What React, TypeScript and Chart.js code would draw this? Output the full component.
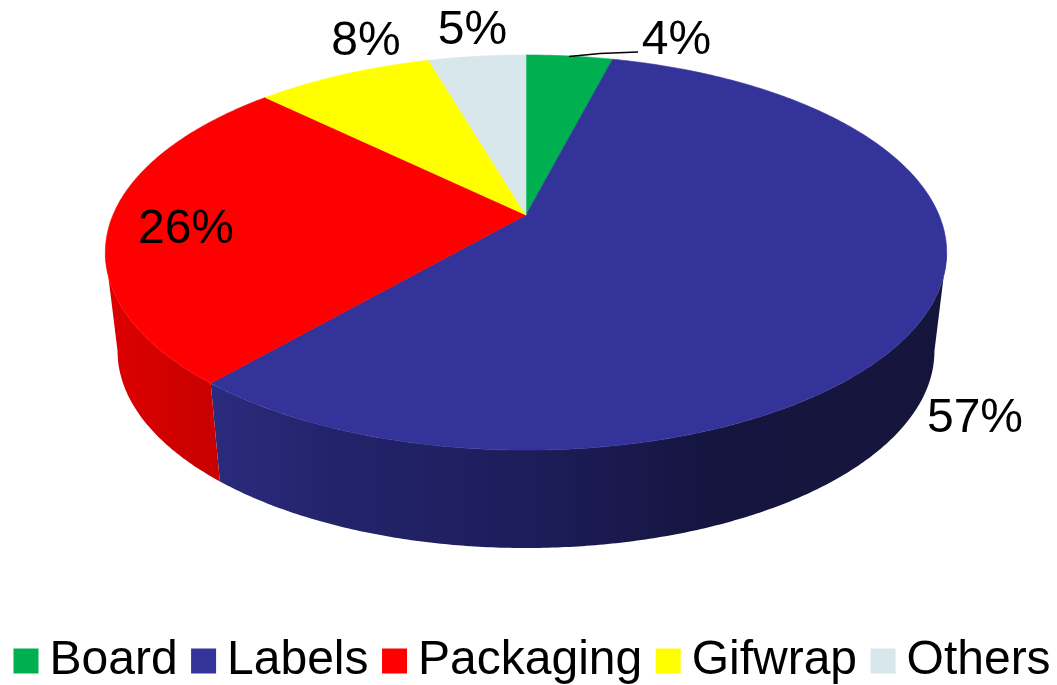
import React, { useEffect, useRef } from "react";
import { Chart, registerables } from "chart.js";

Chart.register(...registerables);

const categories = ["Board", "Labels", "Packaging", "Gifwrap", "Others"];
const shares = [4.0, 57.4, 26.0, 8.2, 4.5];
const topColors = ["#00b050", "#333399", "#ff0000", "#ffff00", "#d7e7eb"];

const FONT = '"Liberation Sans", Arial, sans-serif';
const LABEL_PX = 48;
// Where each percentage label sits (text centre x, baseline y).
const labelAnchors: [number, number][] = [
  [676.5, 54],
  [975, 432],
  [186, 243],
  [366, 55],
  [472.5, 44],
];

// Perspective projection of the unit circle onto the pie's top and bottom rims.
const CX = 526;
const Q = 0.19;
const topRim = { a: 413, b: 149.6, c: 215 };
const bottomRim = { a: 401, b: 130.3, c: 313.6 };
const project = (r: { a: number; b: number; c: number }, angle: number) => {
  const x = Math.cos(angle);
  const y = Math.sin(angle);
  const d = 1 - Q * y;
  return [CX + (r.a * x) / d, (r.b * y + r.c) / d];
};

const EDGE = Math.asin(Q);
const STEP = Math.PI / 360;
const sweep = (from: number, to: number) => {
  const list: number[] = [];
  for (let t = from; t < to; t += STEP) list.push(t);
  list.push(to);
  return list;
};

const wallFill = (ctx: CanvasRenderingContext2D, i: number) => {
  const g = ctx.createLinearGradient(105, 0, 946, 0);
  if (i === 2) {
    g.addColorStop(0, "#de0000");
    g.addColorStop(0.13, "#c80000");
    return g;
  }
  g.addColorStop(0.125, "#2b2b7e");
  g.addColorStop(0.27, "#23236c");
  g.addColorStop(0.5, "#1d1d5b");
  g.addColorStop(0.72, "#151540");
  g.addColorStop(1, "#15153c");
  return g;
};

const piePlugin = {
  id: "perspectivePie",
  beforeDatasetsDraw(chart: any) {
    const ctx: CanvasRenderingContext2D = chart.ctx;
    const arcs = chart.getDatasetMeta(0).data as any[];
    ctx.save();
    ctx.lineJoin = "round";

    // Side walls
    arcs.forEach((arc, i) => {
      const from = Math.max(arc.startAngle, EDGE);
      const to = Math.min(arc.endAngle, Math.PI - EDGE);
      if (to <= from) return;
      const angles = sweep(from, to);
      ctx.beginPath();
      angles.forEach((t, n) => {
        const [x, y] = project(topRim, t);
        if (n === 0) ctx.moveTo(x, y);
        else ctx.lineTo(x, y);
      });
      [...angles].reverse().forEach((t) => {
        const [x, y] = project(bottomRim, t);
        ctx.lineTo(x, y);
      });
      ctx.closePath();
      ctx.fillStyle = wallFill(ctx, i);
      ctx.fill();
    });

    // Top face
    arcs.forEach((arc, i) => {
      ctx.beginPath();
      ctx.moveTo(CX, topRim.c);
      sweep(arc.startAngle, arc.endAngle).forEach((t) => {
        const [x, y] = project(topRim, t);
        ctx.lineTo(x, y);
      });
      ctx.closePath();
      ctx.fillStyle = topColors[i];
      ctx.strokeStyle = topColors[i];
      ctx.lineWidth = 0.6;
      ctx.fill();
      ctx.stroke();
    });

    // Leader line for the first label
    ctx.beginPath();
    ctx.moveTo(569, 56.5);
    ctx.lineTo(600, 53.5);
    ctx.lineTo(638, 52);
    ctx.strokeStyle = "#000000";
    ctx.lineWidth = 1.6;
    ctx.stroke();

    // Percentage labels
    ctx.fillStyle = "#000000";
    ctx.font = `${LABEL_PX}px ${FONT}`;
    ctx.textAlign = "center";
    ctx.textBaseline = "alphabetic";
    shares.forEach((v, i) => {
      ctx.fillText(`${Math.round(v)}%`, labelAnchors[i][0], labelAnchors[i][1]);
    });
    ctx.restore();
    return false;
  },
  afterDraw(chart: any) {
    const ctx: CanvasRenderingContext2D = chart.ctx;
    const boxes = chart.legend.legendHitBoxes as any[];
    ctx.save();
    boxes.forEach((hit, i) => {
      ctx.fillStyle = topColors[i];
      ctx.fillRect(hit.left + LABEL_PX / 2 - 36, hit.top + hit.height / 2 - 12.5, 25, 25);
    });
    ctx.restore();
  },
};

export default function App() {
  const ref = useRef<HTMLCanvasElement>(null);
  useEffect(() => {
    const chart = new Chart(ref.current!, {
      type: "pie",
      data: {
        labels: categories,
        datasets: [{ data: shares, backgroundColor: topColors, borderWidth: 0 }],
      },
      options: {
        responsive: false,
        animation: false,
        events: [],
        devicePixelRatio: 1,
        layout: { padding: { bottom: -10, right: -30 } },
        plugins: {
          tooltip: { enabled: false },
          title: { display: false },
          legend: {
            display: true,
            position: "bottom",
            align: "start",
            labels: {
              boxWidth: 0,
              padding: 25.5,
              color: "#000000",
              font: { family: FONT, size: LABEL_PX },
            },
          },
        },
      },
      plugins: [piePlugin],
    } as any);
    return () => chart.destroy();
  }, []);
  return (
    <div style={{ position: "fixed", left: 0, top: 0, width: 1057, height: 685, background: "#fff" }}>
      <canvas ref={ref} width={1057} height={685} style={{ display: "block" }} />
    </div>
  );
}
